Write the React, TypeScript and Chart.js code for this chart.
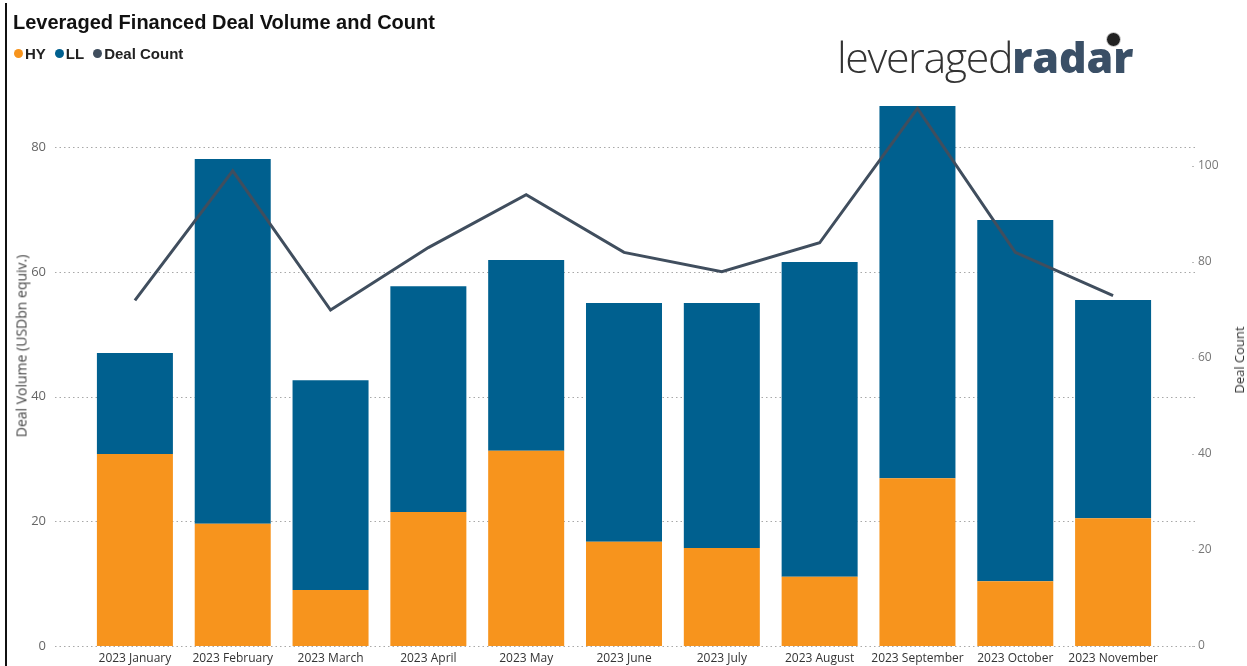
import React, { useEffect, useRef } from "react";
import { Chart, registerables } from "chart.js";

Chart.register(...registerables);

const categories = [
  "2023 January", "2023 February", "2023 March", "2023 April", "2023 May", "2023 June",
  "2023 July", "2023 August", "2023 September", "2023 October", "2023 November",
];
const hyVolume = [30.8, 19.6, 9.0, 21.5, 31.3, 16.7, 15.7, 11.1, 26.9, 10.4, 20.5];
const llVolume = [16.2, 58.5, 33.6, 36.2, 30.6, 38.3, 39.3, 50.5, 59.7, 57.9, 35.0];
const dealCount = [72, 99, 70, 83, 94, 82, 78, 84, 112, 82, 73];
const volumeTicks = [0, 20, 40, 60, 80];
const countTicks = [0, 20, 40, 60, 80, 100];

const ORANGE = "#F7941D";
const BLUE = "#00608F";
const SLATE = "#404E5E";

const gridPlugin = {
  id: "customGrid",
  beforeDatasetsDraw(chart: any) {
    const ctx = chart.ctx;
    const y = chart.scales.y;
    const y1 = chart.scales.y1;
    ctx.save();
    ctx.strokeStyle = "#A8A8A8";
    ctx.lineWidth = 1;
    ctx.setLineDash([1.5, 3]);
    volumeTicks.forEach((v) => {
      const py = Math.round(y.getPixelForValue(v)) + 0.5;
      ctx.beginPath();
      ctx.moveTo(55, py);
      ctx.lineTo(1195, py);
      ctx.stroke();
    });
    ctx.setLineDash([]);
    ctx.fillStyle = "#BBBBBB";
    countTicks.forEach((v) => {
      const py = Math.round(y1.getPixelForValue(v));
      ctx.fillRect(1192, py, 2, 1);
    });
    ctx.restore();
  },
};

export default function App() {
  const ref = useRef<HTMLCanvasElement | null>(null);
  useEffect(() => {
    if (!ref.current) return;
    const chart = new Chart(ref.current, {
      type: "bar",
      data: {
        labels: categories,
        datasets: [
          {
            type: "line",
            label: "Deal Count",
            data: dealCount,
            yAxisID: "y1",
            borderColor: SLATE,
            backgroundColor: SLATE,
            borderWidth: 3,
            pointRadius: 0,
            tension: 0,
            order: 0,
          } as any,
          {
            label: "HY",
            data: hyVolume,
            backgroundColor: ORANGE,
            yAxisID: "y",
            stack: "vol",
            order: 1,
            barPercentage: 0.777,
            categoryPercentage: 1,
          },
          {
            label: "LL",
            data: llVolume,
            backgroundColor: BLUE,
            yAxisID: "y",
            stack: "vol",
            order: 1,
            barPercentage: 0.777,
            categoryPercentage: 1,
          },
        ],
      },
      options: {
        animation: false,
        responsive: false,
        maintainAspectRatio: false,
        layout: { padding: { top: 106, left: 0, right: 0, bottom: 0 } },
        plugins: { legend: { display: false }, tooltip: { enabled: false } },
        scales: {
          x: {
            stacked: true,
            grid: { display: false, drawTicks: false },
            border: { display: false },
            ticks: {
              padding: 5,
              color: "#333333",
              font: { family: "'Open Sans', sans-serif", size: 12 },
              maxRotation: 0,
              autoSkip: false,
            },
            afterFit: (s: any) => { s.height = 20; },
          },
          y: {
            stacked: true,
            position: "left",
            min: 0,
            max: 86.6,
            grid: { display: false, drawTicks: false },
            border: { display: false },
            ticks: {
              padding: 40,
              color: "#666666",
              font: { family: "'Open Sans', sans-serif", size: 13 },
            },
            afterBuildTicks: (s: any) => { s.ticks = volumeTicks.map((v) => ({ value: v })); },
            afterFit: (s: any) => { s.width = 86; s.paddingTop = 0; s.paddingBottom = 0; },
          },
          y1: {
            position: "right",
            min: 0,
            max: 112.5,
            grid: { display: false, drawTicks: false },
            border: { display: false },
            ticks: {
              padding: 36,
              color: "#777777",
              font: { family: "'Open Sans', sans-serif", size: 12 },
            },
            afterBuildTicks: (s: any) => { s.ticks = countTicks.map((v) => ({ value: v })); },
            afterFit: (s: any) => { s.width = 85; s.paddingTop = 0; s.paddingBottom = 0; },
          },
        },
      },
      plugins: [gridPlugin],
    });
    return () => chart.destroy();
  }, []);

  const dot = (c: string) => ({
    display: "inline-block",
    width: 9,
    height: 9,
    borderRadius: "50%",
    background: c,
    marginRight: 2,
  });

  return (
    <div style={{ position: "fixed", left: 0, top: 0, width: 1247, height: 666, background: "#fff", overflow: "hidden" }}>
      <canvas ref={ref} width={1247} height={666} style={{ position: "absolute", left: 0, top: 0, width: 1247, height: 666 }} />
      <div style={{ position: "absolute", left: 5, top: 3, width: 1.5, height: 663, background: "#111" }} />
      <div style={{ position: "absolute", left: 13, top: 12, fontFamily: "'Liberation Sans', Arial, sans-serif", fontWeight: 700, fontSize: 20, lineHeight: "20px", color: "#111", whiteSpace: "nowrap" }}>
        Leveraged Financed Deal Volume and Count
      </div>
      <div style={{ position: "absolute", left: 14, top: 45, fontFamily: "'Liberation Sans', Arial, sans-serif", fontWeight: 700, fontSize: 15, lineHeight: "17px", color: "#222", whiteSpace: "nowrap", display: "flex", alignItems: "center" }}>
        <span style={dot(ORANGE)} /><span style={{ marginRight: 9 }}>HY</span>
        <span style={dot(BLUE)} /><span style={{ marginRight: 9 }}>LL</span>
        <span style={dot(SLATE)} /><span>Deal Count</span>
      </div>
      <div style={{ position: "absolute", left: 837, top: 29, whiteSpace: "nowrap", fontFamily: "'Open Sans', sans-serif", fontSize: 43, lineHeight: "56px" }}>
        <span style={{ fontWeight: 300, color: "#333", letterSpacing: -1.4 }}>leveraged</span>
        <span style={{ fontWeight: 800, color: "#3A4F66", letterSpacing: -0.1 }}>radar</span>
      </div>
      <div style={{ position: "absolute", left: 1106, top: 32, width: 15, height: 15, borderRadius: "50%", background: "#222", border: "1px solid #ddd", boxSizing: "border-box" }} />
      <div style={{ position: "absolute", left: 21, top: 346, transform: "translate(-50%, -50%) rotate(-90deg)", fontFamily: "'Open Sans', sans-serif", fontSize: 14, color: "#444", whiteSpace: "nowrap" }}>
        Deal Volume (USDbn equiv.)
      </div>
      <div style={{ position: "absolute", left: 1239, top: 360, transform: "translate(-50%, -50%) rotate(-90deg)", fontFamily: "'Open Sans', sans-serif", fontSize: 13, color: "#333", whiteSpace: "nowrap" }}>
        Deal Count
      </div>
    </div>
  );
}
